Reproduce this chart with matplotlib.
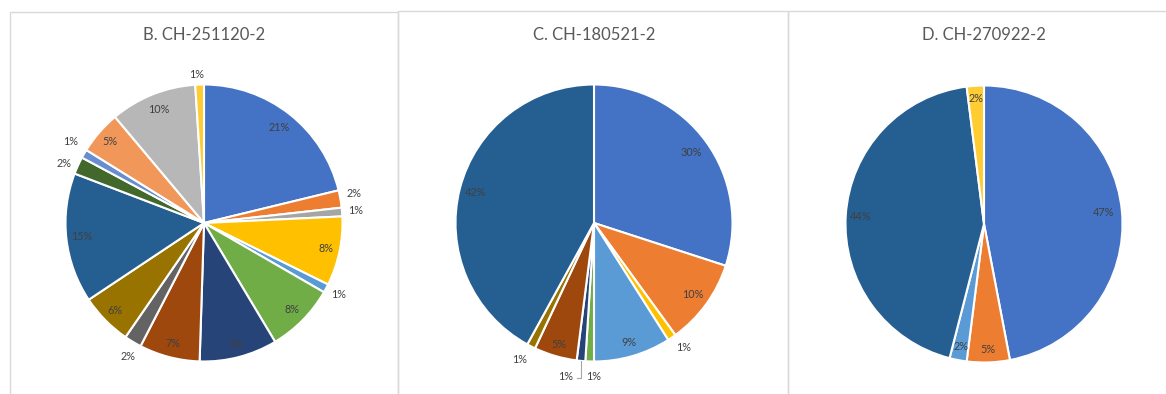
import matplotlib
matplotlib.use("Agg")
import matplotlib.pyplot as plt
from matplotlib.patches import Rectangle
from matplotlib.lines import Line2D
import numpy as np

plt.rcParams['font.family'] = ['Lato', 'DejaVu Sans']

# Office default palette, one colour per category
palette = ["#4472C4", "#ED7D31", "#A5A5A5", "#FFC000", "#5B9BD5", "#70AD47",
           "#264478", "#9E480E", "#636363", "#997300", "#255E91", "#43682B",
           "#698ED0", "#F1975A", "#B7B7B7", "#FFCD33"]

titles = ["B. CH-251120-2", "C. CH-180521-2", "D. CH-270922-2"]

# percentage share per category (category index -> palette colour)
b_values = [21, 2, 1, 8, 1, 8, 9, 7, 2, 6, 15, 2, 1, 5, 10, 1]
c_values = [30, 10, 0, 1, 9, 1, 1, 5, 0, 1, 42, 0, 0, 0, 0, 0]
d_values = [47, 5, 0, 0, 2, 0, 0, 0, 0, 0, 44, 0, 0, 0, 0, 2]

W, H, DPI = 1166, 394, 100
fig = plt.figure(figsize=(W / DPI, H / DPI), dpi=DPI)
fig.patch.set_facecolor("white")

# panel frames (pixel coords, y from top)
frames = [(10, 12, 388), (398, 11, 390), (788, 11, 390)]
for x0, y0, w in frames:
    fig.patches.append(Rectangle((x0 / W, -0.1), w / W, (H - y0) / H + 0.1,
                                 transform=fig.transFigure, fill=False,
                                 edgecolor="#D9D9D9", linewidth=1.0))

centers = [(204, 223), (594, 223), (984, 224)]
radius = 138.5

# label placement style: radial factor and angle nudge (degrees) per shown slice
label_style = [
    {"r": [0.88, 1.1, 1.1, 0.9, 1.1, 0.89, 0.91, 0.9, 1.11, 0.9, 0.89, 1.1, 1.13, 0.9, 0.88, 1.07],
     "shift": [0, -1, 0, 0, 0, 0, 0, 0, -1.5, 0, 0, -1.5, 1.5, 0, 0, -1]},
    {"r": [0.87, 0.88, 1.11, 0.9, 1.11, 1.13, 0.91, 1.12, 0.88],
     "shift": [0, 0, -1.5, 0, -1.8, 5, 0, 1.5, 0]},
    {"r": [0.87, 0.91, 0.9, 0.89, 0.91],
     "shift": [0, 0, 0, 0, 0]},
]

for k, (vals, title) in enumerate(zip([b_values, c_values, d_values], titles)):
    cx, cy = centers[k]
    R = radius * 1.25
    ax = fig.add_axes([(cx - R) / W, (H - cy - R) / H, 2 * R / W, 2 * R / H])
    ax.set_xlim(-1.25, 1.25)
    ax.set_ylim(-1.25, 1.25)
    ax.axis("off")

    shown = [i for i, v in enumerate(vals) if v > 0]
    sizes = [vals[i] for i in shown]
    cols = [palette[i] for i in shown]
    wedges, _ = ax.pie(sizes, colors=cols, startangle=90, counterclock=False,
                       radius=1.0,
                       wedgeprops=dict(edgecolor="white", linewidth=1.5))

    st = label_style[k]
    for j, (w, v) in enumerate(zip(wedges, sizes)):
        mid = 0.5 * (w.theta1 + w.theta2) - st["shift"][j]
        rr = st["r"][j]
        x = rr * np.cos(np.radians(mid))
        y = rr * np.sin(np.radians(mid))
        ax.text(x, y, f"{v}%", ha="center", va="center", fontsize=7.8,
                color="#404040", clip_on=False)

    fig.text(cx / W, 1 - 35 / H, title, ha="center", va="center",
             fontsize=12, color="#595959")

# leader line for the thin dark-blue slice of panel C
axC = fig.axes[1]
wC = axC.patches[5]
midC = np.radians(0.5 * (wC.theta1 + wC.theta2))
x0 = np.cos(midC) * 1.0
axC.add_line(Line2D([x0, x0, x0 - 0.03], [np.sin(midC) * 1.0, -1.12, -1.12],
                    color="#A6A6A6", linewidth=0.8, clip_on=False))

fig.savefig("out.png", dpi=DPI)
